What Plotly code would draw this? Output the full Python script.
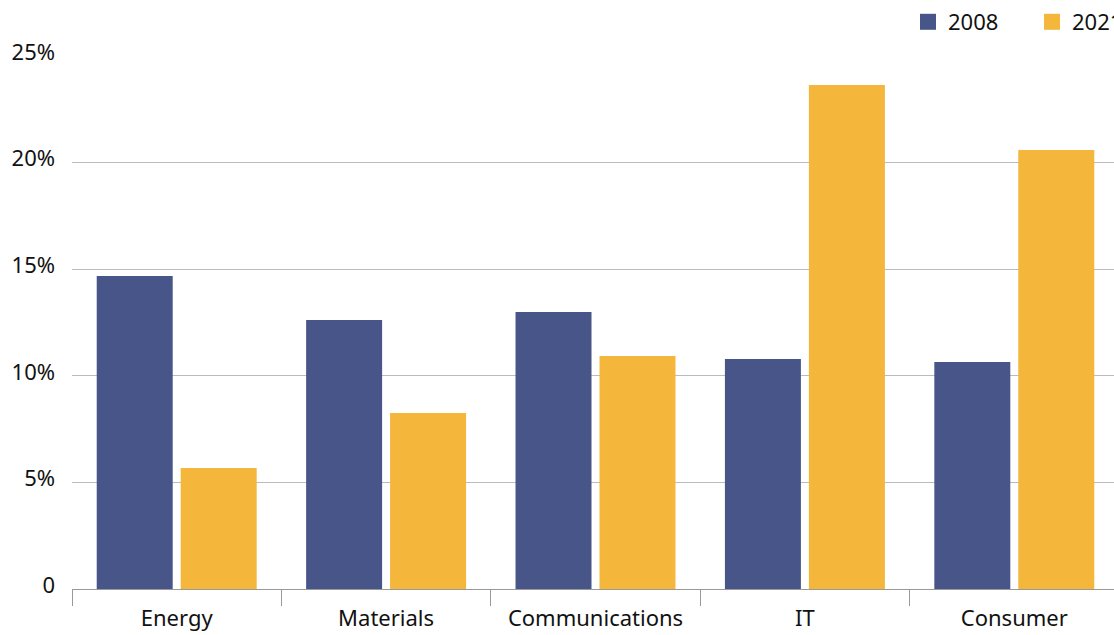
import plotly.graph_objects as go

categories = ["Energy", "Materials", "Communications", "IT", "Consumer"]
series_names = ["2008", "2021"]
values_2008 = [14.68, 12.62, 12.99, 10.79, 10.65]
values_2021 = [5.68, 8.26, 10.93, 23.64, 20.59]
y_tickvals = [0, 5, 10, 15, 20, 25]
y_ticktext = ["0", "5%", "10%", "15%", "20%", "25%"]

colors = ["#485588", "#F4B63B"]
font_family = "Noto Sans, Open Sans, sans-serif"

fig = go.Figure()
for name, vals, col in zip(series_names, [values_2008, values_2021], colors):
    fig.add_trace(go.Bar(x=categories, y=vals, name=name, marker_color=col,
                         marker_line_width=0, showlegend=False))
    fig.add_trace(go.Scatter(x=[None], y=[None], mode="markers", name=name,
                             marker=dict(symbol="square", size=18, color=col)))

W = 1125
PH = 635 - 56 - 46
fig.update_layout(
    width=W, height=635,
    margin=dict(l=72, r=6, t=56, b=46, autoexpand=False),
    paper_bgcolor="white", plot_bgcolor="white",
    barmode="group", bargap=0.198, bargroupgap=0.095,
    font=dict(family=font_family, size=22, color="#111111"),
    legend=dict(orientation="h", x=(908 - 72) / (W - 78), xanchor="left",
                y=1 + 34 / PH, yanchor="middle", yref="paper",
                font=dict(size=22), itemwidth=30, entrywidth=79,
                entrywidthmode="pixels", bgcolor="rgba(0,0,0,0)",
                tracegroupgap=0),
    xaxis=dict(type="category", tickson="boundaries", ticks="outside", ticklen=16,
               tickcolor="#999999", showline=True, linecolor="#999999", linewidth=1,
               showgrid=False, tickfont=dict(size=22), ticklabelstandoff=10),
    yaxis=dict(range=[0, 25], tickvals=y_tickvals, ticktext=y_ticktext,
               showgrid=True, gridcolor="#BBBBBB", gridwidth=1, zeroline=False,
               showline=False, ticks="", ticklabelstandoff=16, ticklabelshift=-4,
               tickfont=dict(size=22)),
)
fig.write_html("out.html")
